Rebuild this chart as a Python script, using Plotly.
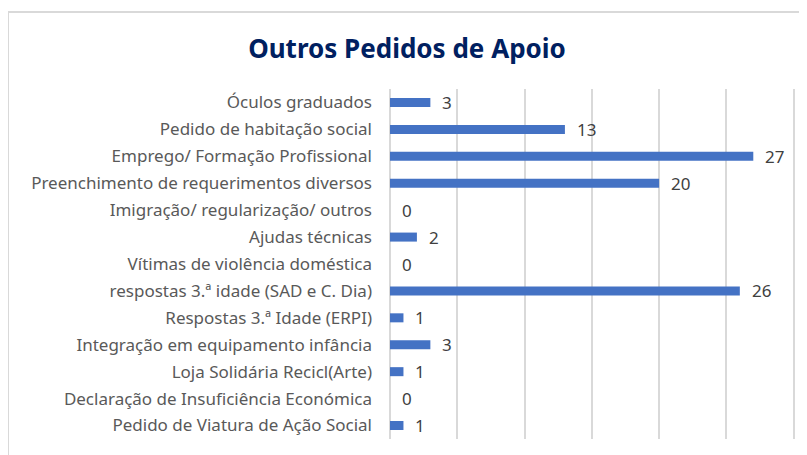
import plotly.graph_objects as go

categories = [
    "Óculos graduados",
    "Pedido de habitação social",
    "Emprego/ Formação Profissional",
    "Preenchimento de requerimentos diversos",
    "Imigração/ regularização/ outros",
    "Ajudas técnicas",
    "Vítimas de violência doméstica",
    "respostas 3.ª idade (SAD e C. Dia)",
    "Respostas 3.ª Idade (ERPI)",
    "Integração em equipamento infância",
    "Loja Solidária Recicl(Arte)",
    "Declaração de Insuficiência Económica",
    "Pedido de Viatura de Ação Social",
]
values = [3, 13, 27, 20, 0, 2, 0, 26, 1, 3, 1, 0, 1]
title_text = "Outros Pedidos de Apoio"

OFF = 8  # page body margin
W, H = 807 - OFF, 455 - OFF
ML, MR, MT, MB = 390 - OFF, 12, 89 - OFF, 16
pw = W - ML - MR
ph = H - MT - MB

fig = go.Figure()
fig.add_trace(go.Bar(
    x=values, y=categories, orientation="h",
    marker=dict(color="#4472C4", line=dict(width=0)),
    hoverinfo="x+y",
))

for c, v in zip(categories, values):
    fig.add_annotation(
        x=v, y=c, xref="x", yref="y", text=str(v), showarrow=False,
        xanchor="left", yanchor="middle", xshift=10,
        font=dict(family="Noto Sans", size=17, color="#404040"),
    )

# chart frame (top and left edge visible)
bx = (7 - OFF + 1 - ML) / pw
ty = (H - MB - (12 - OFF)) / ph
fig.add_shape(type="line", xref="paper", yref="paper",
              x0=(0 - ML) / pw, x1=(W - ML) / pw, y0=ty, y1=ty,
              line=dict(color="#D9D9D9", width=2))
fig.add_shape(type="line", xref="paper", yref="paper",
              x0=bx, x1=bx, y0=ty, y1=-(MB + 5) / ph,
              line=dict(color="#D9D9D9", width=2))

fig.update_layout(
    width=W, height=H,
    margin=dict(l=ML, r=MR, t=MT, b=MB),
    paper_bgcolor="white", plot_bgcolor="white",
    bargap=0.665,
    showlegend=False,
    title=dict(text="<b>" + title_text + "</b>", x=(407 - OFF) / W, xanchor="center",
               y=1 - (49 - OFF) / H, yanchor="middle", yref="container",
               font=dict(family="Noto Sans", size=26, color="#002060")),
    xaxis=dict(range=[0, 30.1], tickvals=[0, 5, 10, 15, 20, 25, 30], showticklabels=False,
               showgrid=True, gridcolor="#D9D9D9", gridwidth=1.5,
               zeroline=True, zerolinecolor="#D9D9D9", zerolinewidth=1.5,
               fixedrange=True),
    yaxis=dict(autorange="reversed", showgrid=False, ticks="",
               ticklabelstandoff=17,
               tickfont=dict(family="Noto Sans", size=17, color="#595959"),
               fixedrange=True),
)

fig.write_html("out.html")
